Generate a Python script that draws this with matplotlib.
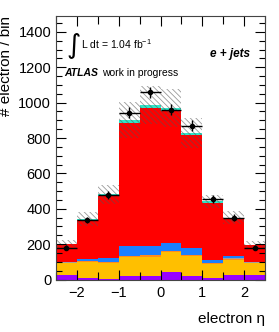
import numpy as np
import matplotlib.pyplot as plt
from matplotlib.ticker import MultipleLocator

plt.rcParams['font.family'] = ['Liberation Sans', 'DejaVu Sans']
plt.rcParams['hatch.linewidth'] = 0.6

# bin edges in electron eta
edges = [-2.5, -2.0, -1.5, -1.0, -0.5, 0.0, 0.5, 1.0, 1.5, 2.0, 2.5]

# stacked backgrounds (per-bin counts), bottom to top
purple = [25, 10, 5, 20, 18, 44, 18, 7, 25, 25]
gold = [68, 88, 88, 108, 112, 110, 115, 81, 88, 68]
orange = [3, 5, 5, 5, 6, 6, 5, 3, 4, 3]
grey = [2, 2, 2, 2, 2, 2, 2, 2, 2, 2]
blue = [1, 10, 23, 54, 53, 45, 39, 17, 15, 1]
red = [101, 220, 352, 697, 777, 748, 637, 321, 213, 95]
cyan = [3, 5, 6, 16, 19, 15, 13, 11, 3, 3]

# uncertainty on total prediction
syst = [22, 40, 53, 100, 109, 107, 85, 38, 36, 22]

# data
data = [180, 337, 478, 942, 1058, 959, 870, 455, 350, 181]

components = [
    (purple, "#9900ff"),
    (gold, "#ffbf00"),
    (orange, "#ff8c1a"),
    (grey, "#a0a0a0"),
    (blue, "#1a80ff"),
    (red, "#ff0000"),
    (cyan, "#2ee6c8"),
]

edges = np.array(edges)
lo = edges[:-1]
width = np.diff(edges)
centers = lo + width / 2

fig = plt.figure(figsize=(2.79, 3.32), dpi=100)
ax = fig.add_axes([0.2007, 0.158, 0.7493, 0.794])

bottom = np.zeros(len(lo))
for vals, col in components:
    vals = np.array(vals, dtype=float)
    ax.bar(lo, vals, width=width, bottom=bottom, align="edge",
           color=col, edgecolor="none", linewidth=0)
    bottom = bottom + vals

total = bottom
syst = np.array(syst, dtype=float)
ax.bar(lo, 2 * syst, width=width, bottom=total - syst, align="edge",
       facecolor="none", edgecolor="#555555", hatch="\\\\\\\\\\\\", linewidth=0, alpha=0.6)

data = np.array(data, dtype=float)
ax.errorbar(centers, data, xerr=width / 2, yerr=np.sqrt(data), fmt="o",
            color="black", markersize=3, elinewidth=1.0, capsize=0)

ax.set_xlim(-2.5, 2.5)
ax.set_ylim(0, 1490)
ax.xaxis.set_major_locator(MultipleLocator(1))
ax.xaxis.set_minor_locator(MultipleLocator(0.5))
ax.yaxis.set_major_locator(MultipleLocator(200))
ax.yaxis.set_minor_locator(MultipleLocator(50))
ax.tick_params(which="both", direction="in", top=True, right=True,
               labelsize=10.5, width=0.8)
ax.tick_params(which="major", length=7)
ax.tick_params(which="minor", length=4)
ax.tick_params(axis="x", which="minor", length=6)
ax.tick_params(axis="x", pad=5)
for s in ax.spines.values():
    s.set_linewidth(0.8)
    s.set_color("#444444")

ax.set_ylabel("# electron / bin", fontsize=11, loc="top", labelpad=4)
ax.set_xlabel("electron η", fontsize=11, loc="right", labelpad=8)

ax.text(0.05, 0.885, r"$\int$", transform=ax.transAxes, fontsize=14,
        va="center", ha="left")
ax.text(0.12, 0.895, r"L dt = 1.04 fb$^{\mathregular{-1}}$", transform=ax.transAxes,
        fontsize=7.5, va="center", ha="left")
ax.text(0.04, 0.785, "ATLAS", transform=ax.transAxes, fontsize=7.5,
        fontweight="bold", fontstyle="italic", va="center", ha="left")
ax.text(0.22, 0.785, "work in progress", transform=ax.transAxes,
        fontsize=7.5, va="center", ha="left")
ax.text(0.83, 0.855, "e + jets", transform=ax.transAxes, fontsize=8.5,
        fontweight="bold", fontstyle="italic", va="center", ha="center")

fig.savefig("out.png", dpi=100)
